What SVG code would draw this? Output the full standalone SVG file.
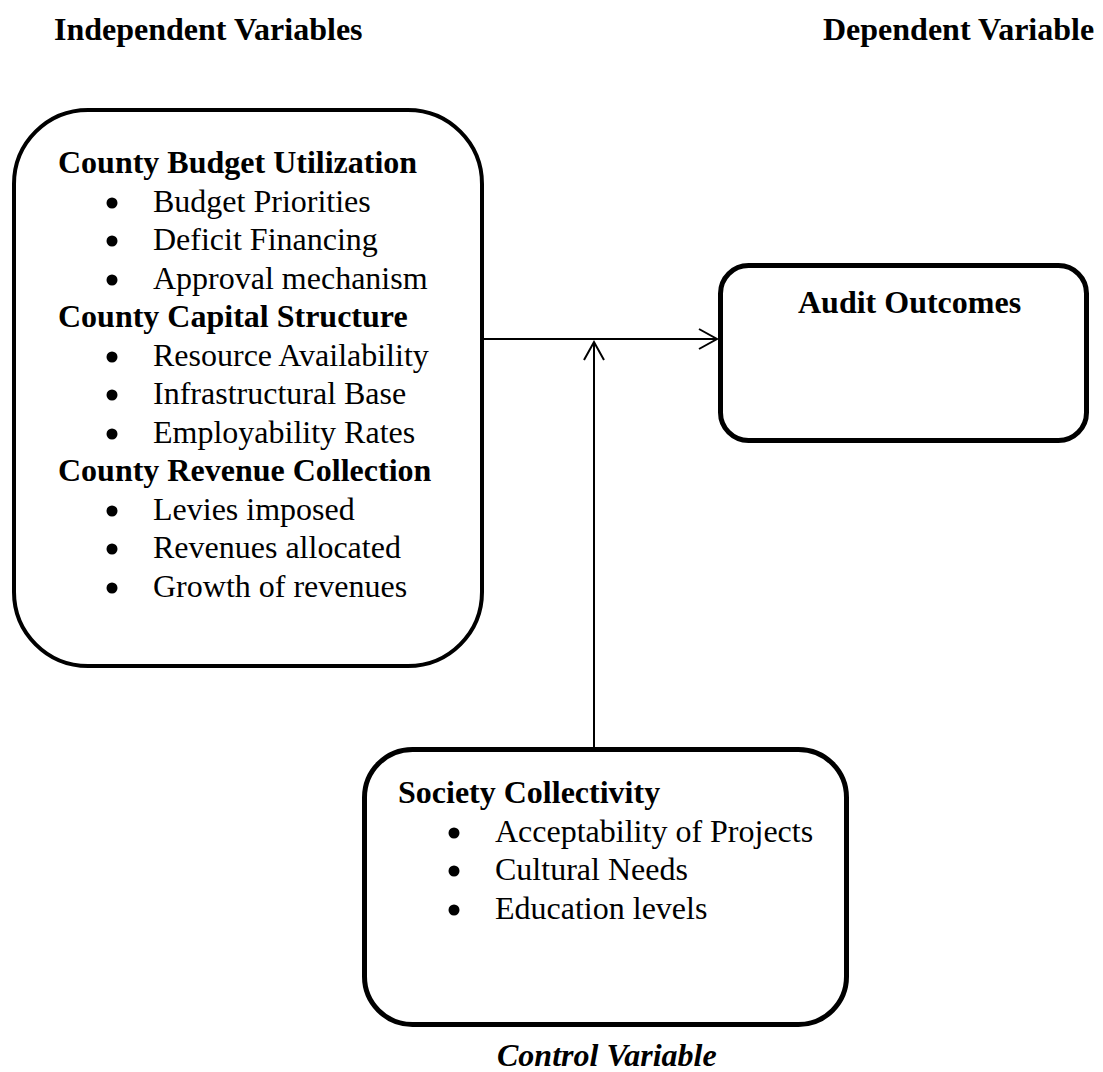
<svg xmlns="http://www.w3.org/2000/svg" width="1103" height="1072" viewBox="0 0 1103 1072">
<style>
text{font-family:"Liberation Serif","Times New Roman",serif;font-size:32px;fill:#000}
.b{font-weight:bold}
.bi{font-weight:bold;font-style:italic}
.box{fill:#fff;stroke:#000}
.dot{fill:#000}
.conn{stroke:#000;stroke-width:2;fill:none}
</style>
<defs>
<marker id="open" markerUnits="userSpaceOnUse" markerWidth="24" markerHeight="24" refX="20" refY="12" orient="auto">
<path d="M2,2 L20,12 L2,22" fill="none" stroke="#000" stroke-width="2"/>
</marker>
</defs>
<rect width="1103" height="1072" fill="#fff"/>
<g id="headers">
<text class="b" x="54" y="40">Independent Variables</text>
<text class="b" x="823" y="40">Dependent Variable</text>
</g>
<g id="independent">
<rect class="box" x="14" y="110" width="468" height="556" rx="74" stroke-width="4"/>
<text class="b" x="58" y="173">County Budget Utilization</text>
<circle class="dot" cx="112" cy="203" r="5.5"/><text x="153" y="211.5">Budget Priorities</text>
<circle class="dot" cx="112" cy="241" r="5.5"/><text x="153" y="250">Deficit Financing</text>
<circle class="dot" cx="112" cy="280" r="5.5"/><text x="153" y="288.5">Approval mechanism</text>
<text class="b" x="58" y="327">County Capital Structure</text>
<circle class="dot" cx="112" cy="357" r="5.5"/><text x="153" y="365.5">Resource Availability</text>
<circle class="dot" cx="112" cy="395" r="5.5"/><text x="153" y="404">Infrastructural Base</text>
<circle class="dot" cx="112" cy="434" r="5.5"/><text x="153" y="442.5">Employability Rates</text>
<text class="b" x="58" y="481">County Revenue Collection</text>
<circle class="dot" cx="112" cy="511" r="5.5"/><text x="153" y="519.5">Levies imposed</text>
<circle class="dot" cx="112" cy="549" r="5.5"/><text x="153" y="558">Revenues allocated</text>
<circle class="dot" cx="112" cy="588" r="5.5"/><text x="153" y="596.5">Growth of revenues</text>
</g>
<g id="dependent">
<rect class="box" x="720.5" y="265.5" width="366" height="175" rx="28" stroke-width="5"/>
<text class="b" x="798" y="313">Audit Outcomes</text>
</g>
<g id="control">
<rect class="box" x="364.5" y="749.5" width="482" height="275" rx="48" stroke-width="5"/>
<text class="b" x="398" y="803">Society Collectivity</text>
<circle class="dot" cx="454" cy="833" r="5.5"/><text x="495" y="842">Acceptability of Projects</text>
<circle class="dot" cx="454" cy="871" r="5.5"/><text x="495" y="880">Cultural Needs</text>
<circle class="dot" cx="454" cy="910" r="5.5"/><text x="495" y="919">Education levels</text>
<text class="bi" x="497" y="1066">Control Variable</text>
</g>
<g id="connectors">
<line class="conn" x1="484" y1="339" x2="717" y2="339" marker-end="url(#open)"/>
<line class="conn" x1="594" y1="747" x2="594" y2="342" marker-end="url(#open)"/>
</g>
</svg>
